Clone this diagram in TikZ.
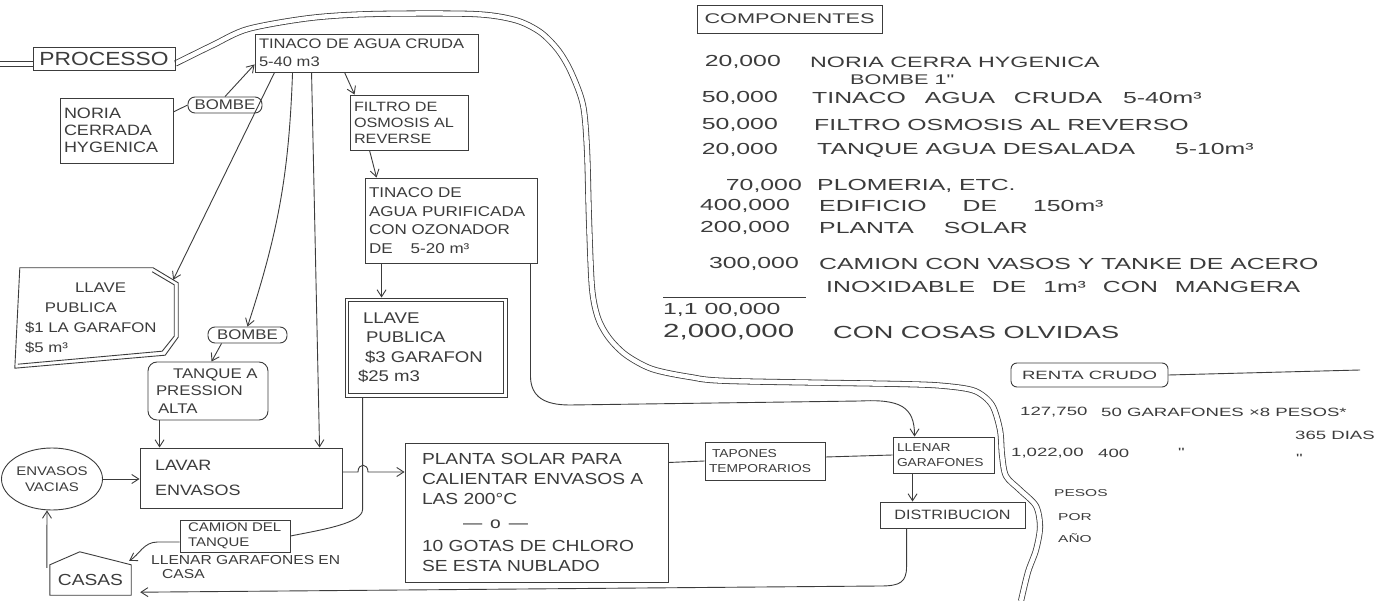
\documentclass[tikz,border=0pt]{standalone}
\usepackage{fontspec}
\setmainfont{Liberation Sans}[FakeStretch=1.2]
\newfontfamily\rfont{Liberation Sans}[FakeStretch=1.55]
\usetikzlibrary{calc,arrows.meta,shapes.geometric}
\definecolor{inkc}{RGB}{60,60,60}
\newcommand\fz[2]{\fontsize{#1}{#2}\selectfont}
\pgfdeclarelayer{bg}
\pgfsetlayers{bg,main}
\begin{document}
\begin{tikzpicture}[x=1pt,y=-1pt,
  line/.style={draw=inkc, line width=0.9pt},
  arr/.style={line, -{Straight Barb[length=7pt,width=9pt,line width=0.9pt]}},
  box/.style={draw=inkc, line width=0.9pt, inner xsep=4pt, inner ysep=2pt, align=left, text=inkc},
  pill/.style={box, rounded corners=7pt, inner sep=1pt, align=center},
  lbl/.style={text=inkc, inner sep=0pt},
  num/.style={lbl, anchor=east, font=\rfont\fz{16}{18}},
  itm/.style={lbl, anchor=west, font=\rfont\fz{16}{18}},
  sm/.style={lbl, anchor=west, font=\rfont\fz{12}{14}},
  pipe/.style={draw=inkc, line width=0.8pt, double=white, double distance=4.5pt},
]
\begin{pgfonlayer}{bg}
\fill[white] (0,0) rectangle (1392,601);
\end{pgfonlayer}
\useasboundingbox (0,0) rectangle (1392,601);

% ---------- left process nodes ----------
\node[box, minimum width=142pt, minimum height=23pt, align=center, font=\fz{19}{22}] (processo) at (104,58.5) {PROCESSO};
\node[box, text width=215pt, minimum height=38pt, font=\fz{13.8}{18}] (tinaco) at (366.5,53) {TINACO DE AGUA CRUDA\\5-40 m3};
\node[box, text width=105pt, minimum height=65pt, font=\fz{15}{17}] (noria) at (116.5,130.5) {NORIA\\CERRADA\\HYGENICA};
\node[pill, minimum width=74pt, minimum height=16pt, font=\fz{14}{16}] (bombe1) at (225,105) {BOMBE};
\node[box, text width=110pt, minimum height=55pt, font=\fz{13.5}{16}] (filtro) at (409,122.5) {FILTRO DE\\OSMOSIS AL\\REVERSE};
\node[box, text width=164pt, minimum height=85pt, font=\fz{14.2}{18.5}] (purif) at (451,220.5) {TINACO DE\\AGUA PURIFICADA\\CON OZONADOR\\DE\hspace{18pt}5-20 m³};
\node[box, text width=154pt, minimum height=99pt, font=\fz{15.5}{19.5}] (llave3) at (426,347.5) {\hspace*{14pt}LLAVE\\\hspace*{17pt}PUBLICA\\\hspace*{16pt}\$3 GARAFON\\\hspace*{9pt}\$25 m3};
\draw[line] ($(llave3.north west)+(4,4)$) rectangle ($(llave3.south east)+(-4,-4)$);

\node[lbl, minimum width=165pt, minimum height=103pt, text width=145pt, align=left, inner xsep=10pt, font=\fz{14}{20}] (llave1) at (97.5,318.5) {\hspace*{50pt}LLAVE\\\hspace*{20pt}PUBLICA\\\$1 LA GARAFON\\\$5 m³};
\draw[line] ($(llave1.north west)+(5,1)$) -- ($(llave1.north east)+(-27,1)$) -- ($(llave1.north east)+(-2,16)$) -- ($(llave1.south east)+(-2,-33)$) -- ($(llave1.south east)+(-15,-15)$) -- ($(llave1.south west)+(0,-2)$) -- cycle;
\draw[line] ($(llave1.north east)+(-28,5)$) -- ($(llave1.north east)+(-6,18)$) -- ($(llave1.south east)+(-6,-34)$) -- ($(llave1.south east)+(-18,-19)$) -- ($(llave1.south west)+(3,-6)$);

\node[pill, minimum width=79pt, minimum height=16pt, font=\fz{14}{16}] (bombe2) at (247.5,335) {BOMBE};
\node[box, rounded corners=9pt, text width=112pt, minimum height=58pt, font=\fz{14}{17.5}] (tanque) at (208,391) {\hspace*{21pt}TANQUE A\\\hspace*{4pt}PRESSION\\\hspace*{6pt}ALTA};
\node[box, text width=194pt, minimum height=60pt, font=\fz{15}{25}] (lavar) at (241,478) {\hspace*{11pt}LAVAR\\\hspace*{11pt}ENVASOS};
\node[ellipse, draw=inkc, line width=0.9pt, minimum width=90pt, minimum height=62pt, inner sep=0pt, align=center, text=inkc, font=\fz{12.5}{16}] (envasos) at (52,479) {ENVASOS\\VACIAS};
\node[box, text width=102pt, minimum height=32pt, font=\fz{12.5}{15.5}] (camion) at (235,536) {\hspace*{4pt}CAMION DEL\\\hspace*{4pt}TANQUE};
\node[lbl, minimum width=81pt, minimum height=30pt, font=\fz{16}{18}] (casas) at (90.5,580) {CASAS};
\draw[line] (casas.north west) -- ($(casas.north west)+(30,-13)$) -- (casas.north east) -- (casas.south east) -- (casas.south west) -- cycle;
\node[lbl, anchor=north west, align=left, font=\fz{13}{14.5}] (llenartxt) at (151,555) {LLENAR GARAFONES EN\\\hspace*{11pt}CASA};

\node[box, inner xsep=17pt, text width=229pt, minimum height=139pt, font=\fz{16}{20}] (planta) at (536.5,512.5) {PLANTA SOLAR PARA\\CALIENTAR ENVASOS A\\LAS 200°C\\[4pt]\hspace*{41pt}—\hspace{8pt}o\hspace{8pt}—\\[3pt]10 GOTAS DE CHLORO\\SE ESTA NUBLADO};
\node[box, text width=112pt, minimum height=38pt, font=\fz{11.5}{15}] (tapones) at (765,461) {\hspace*{3pt}TAPONES\\TEMPORARIOS};
\node[box, text width=93pt, minimum height=36pt, font=\fz{11.5}{15}] (llenar) at (943.5,455) {LLENAR\\GARAFONES};
\node[box, minimum width=145pt, minimum height=26pt, align=center, font=\fz{13.5}{16}] (dist) at (952.5,515) {DISTRIBUCION};

% ---------- right block ----------
\node[box, minimum width=185pt, minimum height=28pt, align=center, font=\rfont\fz{14}{16}] (comp) at (789.5,19) {COMPONENTES};
\node[num] (n1) at (781,62) {20,000};
\node[itm, font=\rfont\fz{15}{17}] (t1) at (810,62) {NORIA CERRA HYGENICA};
\node[itm, font=\rfont\fz{14}{16}] (t1b) at (850,80) {BOMBE 1"};
\node[num] (n2) at (778,98) {50,000};
\node[itm] (t2) at (812,98) {TINACO\hspace{12pt} AGUA\hspace{12pt} CRUDA\hspace{14pt} 5-40m³};
\node[num] (n3) at (778,125) {50,000};
\node[itm] (t3) at (814,125) {FILTRO OSMOSIS AL REVERSO};
\node[num] (n4) at (778,150) {20,000};
\node[itm] (t4) at (817,150) {TANQUE AGUA DESALADA\hspace{40pt}5-10m³};
\node[num] (n5) at (802,186) {70,000};
\node[itm] (t5) at (817,186) {PLOMERIA, ETC.};
\node[num] (n6) at (790,206) {400,000};
\node[itm] (t6) at (819,206) {EDIFICIO\hspace{36pt}DE\hspace{36pt}150m³};
\node[num] (n7) at (790,228) {200,000};
\node[itm] (t7) at (819,228) {PLANTA\hspace{30pt}SOLAR};
\node[num] (n8) at (799,264) {300,000};
\node[itm] (t8) at (819,264) {CAMION CON VASOS Y TANKE DE ACERO};
\node[itm] (t9) at (826,287) {INOXIDABLE\hspace{10pt} DE\hspace{10pt} 1m³\hspace{10pt} CON\hspace{10pt} MANGERA};
\coordinate (ulA) at (663,297);
\coordinate (ulB) at (806,297);
\draw[line] (ulA) -- (ulB);
\node[itm] (n10) at (663,310) {1,1 00,000};
\node[itm, font=\rfont\fz{19}{21}] (n11) at (663,332) {2,000,000};
\node[itm, font=\rfont\fz{17.5}{19}] (t11) at (833,332) {CON COSAS OLVIDAS};

\node[box, rounded corners=6pt, minimum width=157pt, minimum height=24pt, align=center, font=\rfont\fz{12}{14}] (renta) at (1089.5,375) {RENTA CRUDO};
\coordinate (rentaend) at (1360,370);
\draw[line] (renta.east) -- (rentaend);
\node[sm] (r1) at (1020,412) {127,750};
\node[sm] (r2) at (1101,412) {50 GARAFONES ×8 PESOS*};
\node[sm] (r3) at (1295,435) {365 DIAS};
\node[sm] (r4) at (1011,453) {1,022,00};
\node[sm] (r5) at (1098,453) {400};
\node[sm] (r6) at (1178,452) {"};
\node[sm] (r7) at (1296,458) {"};
\node[sm, font=\rfont\fz{10}{12}] (p1) at (1054,493) {PESOS};
\node[sm, font=\rfont\fz{10}{12}] (p2) at (1058,517) {POR};
\node[sm, font=\rfont\fz{10}{12}] (p3) at (1058,538) {AÑO};

% ---------- connectors ----------
\draw[line] (noria.18) -- (bombe1.west);
\draw[arr] (bombe1.north) -- ($(tinaco.south west)+(0,-8)$);
\draw[arr] ($(tinaco.south west)+(20,0)$) -- ($(llave1.north east)+(-7,13)$);
\draw[arr] ($(tinaco.south west)+(38,0)$) to[bend left=8] (bombe2.north);
\draw[arr] ($(tinaco.south west)+(57,0)$) -- ($(lavar.north west)+(180,0)$);
\draw[arr] ($(tinaco.south west)+(90,0)$) -- ($(filtro.north west)+(5,0)$);
\draw[arr] ($(filtro.south west)+(20,0)$) -- ($(purif.north west)+(12,0)$);
\draw[arr] ($(purif.south west)+(17,0)$) -- ($(llave3.north west)+(37,0)$);
\draw[arr] ($(purif.south east)+(-7,0)$) -- ++(0,112) .. controls ++(0,22) and (545,405) .. (570,405) -- (860,401) .. controls (900,399) and ($(llenar.north west)+(22,-30)$) .. ($(llenar.north west)+(22,0)$);
\draw[arr] ($(bombe2.south west)+(14,0)$) -- ($(tanque.north west)+(64,0)$);
\draw[arr] ($(tanque.south west)+(12,0)$) -- ($(lavar.north west)+(20,0)$);
\draw[arr] (envasos.east) -- (lavar.west |- envasos.east);
\draw[arr] ($(lavar.east)+(0,-6)$) -- (358,472) .. controls (358,463) and (368,463) .. (368,472) -- ($(planta.west)+(0,-40.5)$);
\draw[line] ($(llave3.south west)+(18,0)$) -- ++(0,112) .. controls ++(0,14) and ($(camion.east)+(30,-6)$) .. (camion.east);
\draw[arr] ($(camion.west)+(0,6)$) -- ++(-22,0) .. controls ++(-14,0) and ($(casas.north east)+(8,-10)$) .. ($(casas.north east)+(-2,-4)$);
\draw[arr] ($(casas.north west)+(-3,3)$) -- ($(envasos.south)+(-5,0)$);
\draw[line] ($(planta.east)+(0,-50)$) -- (tapones.west);
\draw[line] ($(tapones.east)+(0,-4)$) -- (llenar.west);
\draw[arr] ($(llenar.south west)+(20,0)$) -- ($(dist.north west)+(33,0)$);
\draw[arr] ($(dist.south west)+(27,0)$) -- ++(0,38) .. controls ++(0,16) and (900,586) .. (880,586) -- ($(casas.south east)+(9,-3)$);

% ---------- pipe ----------
\coordinate (pl) at (0,64);
\coordinate (ps) at ($(processo.east)+(0,5)$);
\begin{pgfonlayer}{bg}
\draw[pipe] (pl) -- ($(processo.west)+(0,5.5)$);
\draw[pipe] plot[smooth, tension=0.5] coordinates {(ps) (213,45) (248,29) (310,18) (373,14) (473,14) (515,20) (540,32) (558,50) (571,72) (583,105) (587,150) (589,220) (592,288) (598,318) (609,338) (626,355) (652,369) (690,377) (730,381) (900,384) (945,386) (975,391) (992,405) (1000,430) (1002,455) (1006,476) (1020,490) (1036,506) (1040,527) (1036,550) (1028,572) (1021,601)};
\end{pgfonlayer}
\end{tikzpicture}
\end{document}
